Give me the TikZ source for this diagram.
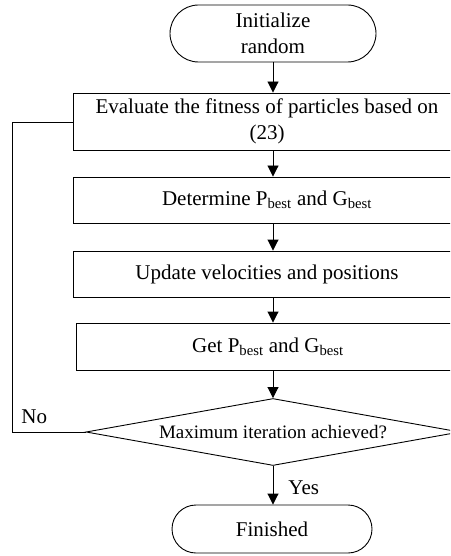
\documentclass[tikz,border=0pt]{standalone}
\usepackage{fontspec}
\setmainfont{Liberation Serif}
\usetikzlibrary{shapes.geometric,shapes.misc,arrows.meta}
\begin{document}
\begin{tikzpicture}[x=1pt,y=-1pt,
  every node/.style={font=\fontsize{21}{26}\selectfont, inner sep=0pt, line width=0.9pt},
  term/.style={draw, rounded rectangle, align=center},
  proc/.style={draw, rectangle, align=center},
  decis/.style={draw, diamond, shape aspect=5.6, minimum width=374pt, minimum height=67pt, font=\fontsize{19}{22}\selectfont},
  lbl/.style={font=\fontsize{21}{24}\selectfont},
  conn/.style={line width=0.9pt, -{Triangle[width=11pt,length=11pt]}},
  plain/.style={line width=0.9pt}
]
\useasboundingbox (0,0) rectangle (450,556);
\clip (0,0) rectangle (450,556);
\node[term, minimum width=206pt, minimum height=57pt] (start) at (273,33.5) {Initialize\\random};
\node[proc, minimum width=388pt, minimum height=57pt] (b1) at (267,121.5) {Evaluate the fitness of particles based on\\(23)};
\node[proc, minimum width=388pt, minimum height=46pt] (b2) at (267,200) {Determine P\textsubscript{best} and G\textsubscript{best}};
\node[proc, minimum width=388pt, minimum height=46pt] (b3) at (267,274) {Update velocities and positions};
\node[proc, minimum width=384pt, minimum height=47pt] (b4) at (268,346.5) {Get P\textsubscript{best} and G\textsubscript{best}};
\node[decis] (dec) at (273,432) {Maximum iteration achieved?};
\node[term, minimum width=200pt, minimum height=48pt] (fin) at (272,529) {Finished};
\coordinate (c1) at (12,432);
\coordinate (c2) at (12,122);
\node[lbl, anchor=west] (no) at (21,417) {No};
\node[lbl, anchor=west] (yes) at (288,488) {Yes};
\draw[conn] (start.south) -- (start.south |- b1.north);
\draw[conn] (b1.south -| start.south) -- (b2.north -| start.south);
\draw[conn] (b2.south -| start.south) -- (b3.north -| start.south);
\draw[conn] (b3.south -| start.south) -- (b4.north -| start.south);
\draw[conn] (b4.south -| dec.north) -- (dec.north);
\draw[conn] (dec.south) -- (dec.south |- fin.north);
\draw[plain] (dec.west) -- (c1) -- (c2) -- (b1.west |- c2);
\end{tikzpicture}
\end{document}
